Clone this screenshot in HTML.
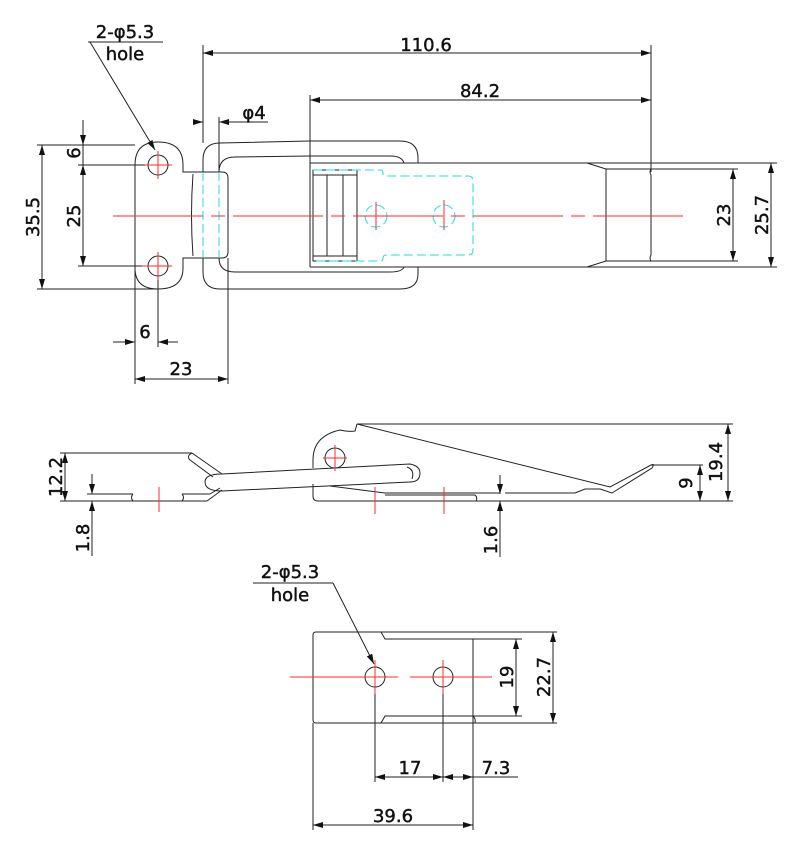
<!DOCTYPE html>
<html><head><meta charset="utf-8"><style>
html,body{margin:0;padding:0;background:#fff}
svg{display:block}
text{font-family:"DejaVu Sans","Liberation Sans",sans-serif;font-size:18px;fill:#111;stroke:#111;stroke-width:0.45px}
</style></head><body>
<svg width="800" height="844" viewBox="0 0 800 844" xmlns="http://www.w3.org/2000/svg">
<defs>
<marker id="a" viewBox="0 0 10 6" refX="10" refY="3" markerWidth="10" markerHeight="6" orient="auto-start-reverse" markerUnits="userSpaceOnUse"><path d="M0,0 L10,3 L0,6 z" fill="#111"/></marker>
</defs>
<g fill="none" stroke="#222" stroke-width="1">
<line x1="88" y1="42" x2="163" y2="42"/>
<line x1="90" y1="42" x2="155" y2="150" marker-end="url(#a)"/>
<line x1="203" y1="45" x2="203" y2="143"/>
<line x1="651" y1="45" x2="651" y2="172"/>
<line x1="203" y1="53" x2="651" y2="53" marker-start="url(#a)" marker-end="url(#a)"/>
<line x1="310" y1="95" x2="310" y2="163"/>
<line x1="310" y1="100" x2="651" y2="100" marker-start="url(#a)" marker-end="url(#a)"/>
<line x1="219" y1="117" x2="219" y2="172"/>
<line x1="193" y1="122" x2="203" y2="122" marker-end="url(#a)"/>
<line x1="229" y1="122" x2="219" y2="122" marker-end="url(#a)"/>
<line x1="219" y1="122" x2="268" y2="122"/>
<path d="M135,268 V165 Q135,142 158,142 Q183,142 183,165 V172 H193"/>
<path d="M193,258 H183 V268 Q183,289 158,289 Q135,289 135,268"/>
<circle cx="158" cy="165" r="10"/>
<circle cx="158" cy="266" r="10"/>
<path d="M193,172 H222 Q228,172 228,178 V252 Q228,258 222,258 H193"/>
<path d="M193,174 Q190,215 193,256"/>
<path d="M203,172 V160 Q203,143 220,143 L310,141 H400 Q418,141 418,158 V163"/>
<path d="M219,172 Q219,157 235,157 L310,156 H390 Q402,156 404,163"/>
<path d="M203,258 V272 Q203,289 220,289 H400 Q418,289 418,274 V267"/>
<path d="M219,258 Q219,272 235,272 H390 Q402,272 404,267"/>
<path d="M310,163 H777"/>
<path d="M310,267 H777"/>
<line x1="310" y1="163" x2="310" y2="267"/>
<path d="M587,163 L606,169 H738"/>
<path d="M587,267 L606,261 H738"/>
<line x1="606" y1="169" x2="606" y2="261"/>
<path d="M651,169 Q649,172 651,175 V255 Q649,258 651,261"/>
<rect x="313" y="170" width="44" height="91"/>
<line x1="327" y1="175" x2="327" y2="256"/>
<line x1="343" y1="175" x2="343" y2="256"/>
<line x1="313" y1="175" x2="357" y2="175"/>
<line x1="313" y1="256" x2="357" y2="256"/>
<line x1="733" y1="169" x2="733" y2="261" marker-start="url(#a)" marker-end="url(#a)"/>
<line x1="771" y1="163" x2="771" y2="267" marker-start="url(#a)" marker-end="url(#a)"/>
<line x1="37" y1="145" x2="135" y2="145"/>
<line x1="37" y1="289" x2="158" y2="289"/>
<line x1="42" y1="145" x2="42" y2="289" marker-start="url(#a)" marker-end="url(#a)"/>
<line x1="78" y1="165" x2="150" y2="165"/>
<line x1="78" y1="266" x2="150" y2="266"/>
<line x1="83" y1="120" x2="83" y2="145" marker-end="url(#a)"/>
<line x1="83" y1="145" x2="83" y2="165"/>
<line x1="83" y1="165" x2="83" y2="266" marker-start="url(#a)" marker-end="url(#a)"/>
<line x1="78" y1="145" x2="135" y2="145"/>
<line x1="135" y1="268" x2="135" y2="384"/>
<line x1="158" y1="276" x2="158" y2="347"/>
<line x1="228" y1="258" x2="228" y2="384"/>
<line x1="113" y1="342" x2="135" y2="342" marker-end="url(#a)"/>
<line x1="178" y1="342" x2="158" y2="342" marker-end="url(#a)"/>
<line x1="135" y1="379" x2="228" y2="379" marker-start="url(#a)" marker-end="url(#a)"/>
</g>
<g fill="none" stroke="#22dddd" stroke-width="1" stroke-dasharray="9,4">
<line x1="203" y1="172" x2="203" y2="258"/>
<line x1="219" y1="172" x2="219" y2="258"/>
<path d="M313,170 H381 Q383,170 383,174 Q383,176 387,176 H468 Q473,176 473,181 V250 Q473,255 468,255 H387 Q383,255 383,258 Q383,261 381,261 H313"/>
<circle cx="376" cy="216" r="11"/>
<circle cx="444" cy="216" r="11"/>
</g>
<g stroke="#ff2a2a" stroke-width="1" fill="none">
<line x1="113" y1="216" x2="690" y2="216" stroke-dasharray="90,8,14,8"/>
<line x1="145" y1="165" x2="172" y2="165"/><line x1="158" y1="151" x2="158" y2="179"/>
<line x1="142" y1="266" x2="172" y2="266"/><line x1="158" y1="252" x2="158" y2="280"/>
<line x1="376" y1="202" x2="376" y2="230"/><line x1="444" y1="200" x2="444" y2="230"/>
</g>

<g fill="none" stroke="#222" stroke-width="1">
<line x1="60" y1="453" x2="192" y2="453"/>
<path d="M192,453 Q186,456 190,460 L213,477"/>
<path d="M192,453 L222,474"/>
<path d="M87,494 H133 M182,494 H210"/>
<path d="M133,494 Q130,497.5 133,501 M182,494 Q185,497.5 182,501"/>
<line x1="60" y1="501" x2="207" y2="501"/>
<path d="M207,501 L222,490"/>
<path d="M210,494 L220,488"/>
<path d="M222,474 L410,464 Q420,466 420,473 Q420,482 410,482 L222,491 Q205,491 205,482 Q205,474 222,474"/>
<path d="M407,467 Q415,470 412,479"/>
<path d="M357,424 L355,431 Q348,432 340,430 Q313,436 313,460 V468"/>
<circle cx="335" cy="458" r="10"/>
<line x1="357" y1="424" x2="733" y2="424"/>
<path d="M357,424 L610,487 L651,465 Q655,463 652,468 L612,493 L600,489 L585,489 L575,493 H505"/>
<line x1="651" y1="465" x2="703" y2="465"/>
<path d="M313,484 V496 Q313,501 318,501 H733"/>
<path d="M330,486 L385,493 H500"/>
<path d="M385,495 H475 Q478,498 476,501"/>
<line x1="65" y1="453" x2="65" y2="501" marker-start="url(#a)" marker-end="url(#a)"/>
<line x1="92" y1="474" x2="92" y2="494" marker-end="url(#a)"/>
<line x1="92" y1="501" x2="92" y2="556"/>
<line x1="92" y1="511" x2="92" y2="501" marker-end="url(#a)"/>
<line x1="500" y1="475" x2="500" y2="494" marker-end="url(#a)"/>
<line x1="500" y1="501" x2="500" y2="557"/>
<line x1="500" y1="511" x2="500" y2="501" marker-end="url(#a)"/>
<line x1="700" y1="465" x2="700" y2="501" marker-start="url(#a)" marker-end="url(#a)"/>
<line x1="728" y1="424" x2="728" y2="501" marker-start="url(#a)" marker-end="url(#a)"/>
</g>
<g stroke="#ff2a2a" stroke-width="1">
<line x1="159" y1="487" x2="159" y2="512"/>
<line x1="323" y1="458" x2="347" y2="458"/><line x1="335" y1="445" x2="335" y2="471"/>
<line x1="375" y1="487" x2="375" y2="514"/>
<line x1="444" y1="487" x2="444" y2="514"/>
</g>

<g fill="none" stroke="#222" stroke-width="1">
<line x1="253" y1="583" x2="333" y2="583"/>
<line x1="333" y1="583" x2="374" y2="664" marker-end="url(#a)"/>
<path d="M316,632 H557"/>
<path d="M316,723 H557"/>
<path d="M316,632 Q313,632 313,635 V720 Q313,723 316,723"/>
<path d="M381,632 L385,639 H522"/>
<path d="M381,723 L385,716 H522"/>
<line x1="473" y1="639" x2="473" y2="830"/>
<path d="M473,716 Q476,719 475,723"/>
<circle cx="375" cy="677" r="10"/>
<circle cx="443" cy="677" r="10"/>
<line x1="375" y1="690" x2="375" y2="782"/>
<line x1="443" y1="690" x2="443" y2="782"/>
<line x1="313" y1="723" x2="313" y2="830"/>
<line x1="516" y1="639" x2="516" y2="716" marker-start="url(#a)" marker-end="url(#a)"/>
<line x1="553" y1="632" x2="553" y2="723" marker-start="url(#a)" marker-end="url(#a)"/>
<line x1="375" y1="777" x2="443" y2="777" marker-start="url(#a)" marker-end="url(#a)"/>
<line x1="463" y1="777" x2="443" y2="777" marker-end="url(#a)"/>
<line x1="453" y1="777" x2="473" y2="777" marker-end="url(#a)"/>
<line x1="473" y1="777" x2="518" y2="777"/>
<line x1="313" y1="825" x2="473" y2="825" marker-start="url(#a)" marker-end="url(#a)"/>
</g>
<g stroke="#ff2a2a" stroke-width="1">
<line x1="290" y1="677" x2="398" y2="677"/>
<line x1="410" y1="677" x2="492" y2="677"/>
<line x1="375" y1="660" x2="375" y2="694"/>
<line x1="443" y1="660" x2="443" y2="694"/>
</g>

<text x="125" y="38" text-anchor="middle">2-φ5.3</text>
<text x="125" y="60" text-anchor="middle">hole</text>
<text x="426" y="51" text-anchor="middle">110.6</text>
<text x="480" y="97" text-anchor="middle">84.2</text>
<text x="254" y="119" text-anchor="middle">φ4</text>
<text x="145" y="338" text-anchor="middle">6</text>
<text x="181" y="375" text-anchor="middle">23</text>
<text transform="translate(39,217) rotate(-90)" text-anchor="middle">35.5</text>
<text transform="translate(80,153) rotate(-90)" text-anchor="middle">6</text>
<text transform="translate(80,216) rotate(-90)" text-anchor="middle">25</text>
<text transform="translate(730,215) rotate(-90)" text-anchor="middle">23</text>
<text transform="translate(768,215) rotate(-90)" text-anchor="middle">25.7</text>
<text transform="translate(62,477) rotate(-90)" text-anchor="middle">12.2</text>
<text transform="translate(89,538) rotate(-90)" text-anchor="middle">1.8</text>
<text transform="translate(497,540) rotate(-90)" text-anchor="middle">1.6</text>
<text transform="translate(692,483) rotate(-90)" text-anchor="middle">9</text>
<text transform="translate(722,462) rotate(-90)" text-anchor="middle">19.4</text>
<text x="290" y="578" text-anchor="middle">2-φ5.3</text>
<text x="290" y="601" text-anchor="middle">hole</text>
<text transform="translate(513,677) rotate(-90)" text-anchor="middle">19</text>
<text transform="translate(550,677) rotate(-90)" text-anchor="middle">22.7</text>
<text x="410" y="774" text-anchor="middle">17</text>
<text x="496" y="774" text-anchor="middle">7.3</text>
<text x="393" y="822" text-anchor="middle">39.6</text>
</svg>
</body></html>
